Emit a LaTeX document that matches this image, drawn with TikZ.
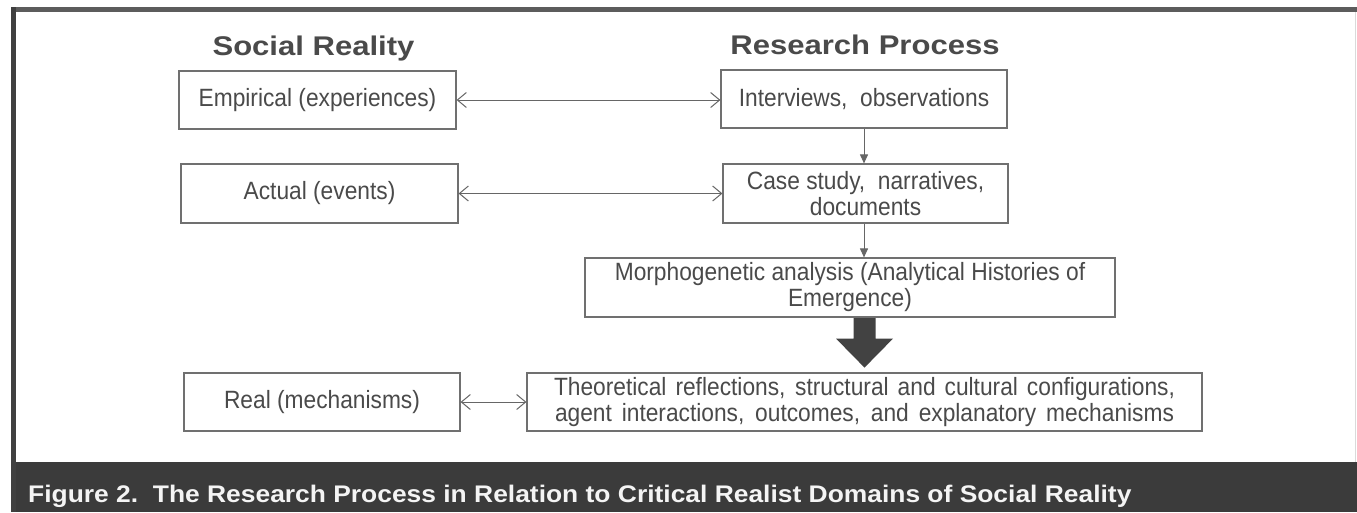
\documentclass[tikz,border=0pt]{standalone}
\usepackage{fontspec}
\setmainfont{Liberation Sans}
\newfontfamily\boxfont[FakeStretch=0.91]{Liberation Sans}
\newfontfamily\headfont[FakeStretch=1.15]{Liberation Sans}
\newfontfamily\capfont[FakeStretch=1.1]{Liberation Sans}
\usetikzlibrary{arrows.meta}
\definecolor{txt}{HTML}{4A4A4A}
\definecolor{boxline}{HTML}{707070}
\definecolor{linkc}{HTML}{666666}
\definecolor{bandc}{HTML}{3B3B3B}
\definecolor{topc}{HTML}{5C5C5C}
\definecolor{leftc}{HTML}{404040}
\definecolor{bigarrow}{HTML}{424242}
\definecolor{captxt}{HTML}{F4F4F4}
\definecolor{faint}{HTML}{DADADA}
\begin{document}
\begin{tikzpicture}[x=1pt,y=-1pt,
  box/.style={draw=boxline, line width=1.2pt, rectangle, inner sep=0pt, text=txt,
    font=\boxfont\fontsize{25}{26}\selectfont, align=center},
  head/.style={text=txt, font=\headfont\bfseries\fontsize{27}{28}\selectfont, anchor=base, inner sep=0pt},
  link/.style={draw=linkc, line width=1pt,
    {Straight Barb[length=9pt,width=15pt]}-{Straight Barb[length=9pt,width=15pt]}},
  down/.style={draw=linkc, line width=1pt, -{Triangle[length=9pt,width=8pt]}},
  ]
\useasboundingbox (0,0) rectangle (1357,512);
\fill[white] (0,0) rectangle (1357,512);
% frame
\fill[topc] (11,7) rectangle (1357,12);
\draw[faint, line width=1pt] (1355,12) -- (1355,462);
\fill[bandc] (11,462) rectangle (1357,512);
\fill[leftc] (11,7) rectangle (16,512);

% headings
\node[head] (hsr) at (313.5,55) {Social Reality};
\node[head] (hrp) at (865,54.5) {Research Process};

% left column
\node[box, minimum width=277pt, minimum height=58pt] (emp) at (317.5,100) {Empirical (experiences)};
\node[box, minimum width=277pt, minimum height=59pt] (act) at (319.5,193.5) {Actual (events)};
\node[box, minimum width=276pt, minimum height=58pt] (real) at (322,402) {Real (mechanisms)};

% right column
\node[box, minimum width=286pt, minimum height=58pt] (int) at (864,99) {Interviews,\ \ observations};
\node[box, minimum width=285pt, minimum height=59pt] (case) at (865.5,193.5) {Case study,\ \ narratives,\\documents};
\node[box, minimum width=530pt, minimum height=59pt] (morph) at (850,287.5) {Morphogenetic analysis (Analytical Histories of\\Emergence)};
\node[box, minimum width=675pt, minimum height=58pt] (theo) at (864.5,402)
  {\makebox[621pt][s]{Theoretical reflections, structural and cultural configurations,}\\
   \makebox[619pt][s]{agent interactions, outcomes, and explanatory mechanisms}};

% connectors
\draw[link] (emp.east) -- (emp.east -| int.west);
\draw[link] (act.east) -- (act.east -| case.west);
\draw[link] (real.east) -- (real.east -| theo.west);
\draw[down] (int.south) -- (int.south |- case.north);
\draw[down] (int.south |- case.south) -- (int.south |- morph.north);

% big arrow
\coordinate (bt) at (morph.south -| theo.north);
\begin{scope}[shift={(bt)}]
\fill[bigarrow] (-11,0.5) -- (11,0.5) -- (11,21) -- (28.5,21) -- (0,50) -- (-28.5,21) -- (-11,21) -- cycle;
\end{scope}

% caption
\node[text=captxt, font=\capfont\bfseries\fontsize{24}{26}\selectfont, anchor=base west, inner sep=0pt]
  (cap) at (28,502) {Figure 2.\ \ The Research Process in Relation to Critical Realist Domains of Social Reality};
\end{tikzpicture}
\end{document}
